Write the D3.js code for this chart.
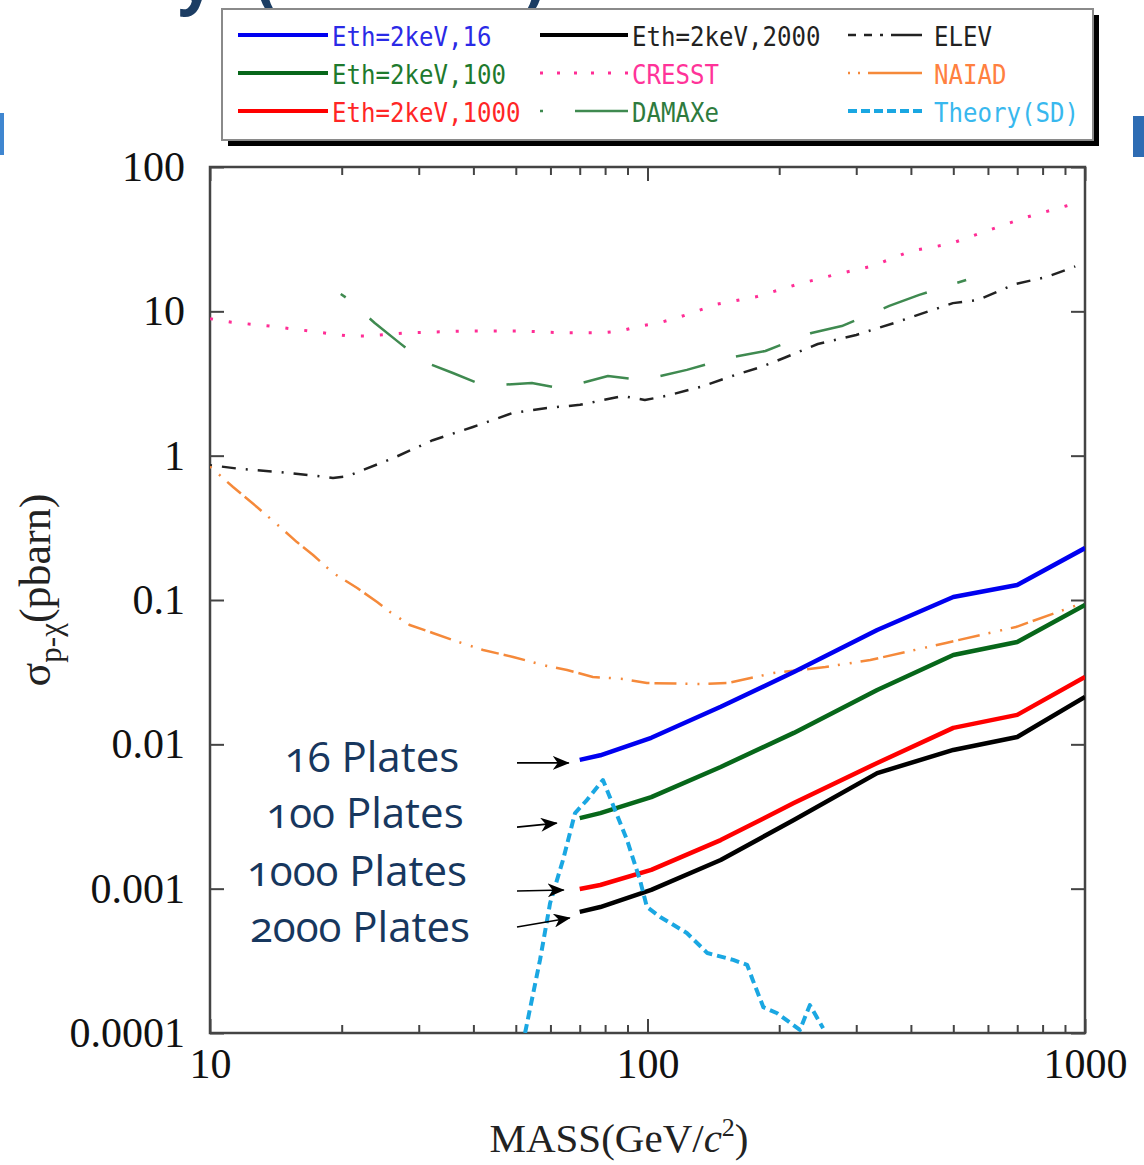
<!DOCTYPE html>
<html>
<head>
<meta charset="utf-8">
<script src="https://cdn.jsdelivr.net/npm/d3@7"></script>
<style>
  body { margin: 0; background: #fff; }
  svg { display: block; }
</style>
</head>
<body>
<svg id="chart" width="1144" height="1165"></svg>
<script>
// axis ticks
const xMajor = [10, 100, 1000];
const xMinor = [20, 30, 40, 50, 60, 70, 80, 90, 200, 300, 400, 500, 600, 700, 800, 900];
const yMajor = [0.0001, 0.001, 0.01, 0.1, 1, 10, 100];
const yTickLabels = ["0.0001", "0.001", "0.01", "0.1", "1", "10", "100"];

// Eth=2keV curves (16 / 100 / 1000 / 2000 plates), same mass points
const ethMass = [70, 78, 102, 147, 216, 335, 500, 700, 1000];
const eth16   = [0.0078, 0.0084, 0.0111, 0.0182, 0.0317, 0.062, 0.105, 0.127, 0.229];
const eth100  = [0.00308, 0.00334, 0.00431, 0.00697, 0.0120, 0.0238, 0.0416, 0.0512, 0.0923];
const eth1000 = [0.000995, 0.00106, 0.00135, 0.00217, 0.00392, 0.00743, 0.0130, 0.0160, 0.0293];
const eth2000 = [0.00069, 0.000746, 0.00098, 0.00158, 0.00299, 0.00632, 0.00914, 0.01124, 0.0213];

// other experiments
const cresstMass  = [10, 11.2, 13.7, 16.9, 20.7, 23, 28.2, 38.3, 52, 64, 79, 86.5, 96, 106, 118, 144, 177, 217, 267, 327, 400, 491, 604, 737, 905, 950];
const cresstSigma = [8.9, 8.4, 7.9, 7.3, 6.75, 6.75, 7.1, 7.3, 7.3, 7.1, 7.1, 7.3, 7.9, 8.3, 9.1, 11.2, 12.6, 15.2, 17.9, 20.6, 26.2, 29.3, 36.6, 45, 53.7, 56];

const damaMass  = [19.9, 20.5, 23.8, 27.2, 30.7, 35.9, 40.3, 46, 54.4, 60.8, 69.4, 81.2, 92.6, 105, 123, 157, 186, 237, 278, 357, 418, 535];
const damaSigma = [13.2, 12.4, 8.3, 6.0, 4.5, 3.74, 3.24, 3.09, 3.19, 2.99, 3.14, 3.56, 3.4, 3.51, 3.93, 4.83, 5.31, 7.08, 7.91, 10.9, 13.0, 16.5];

const elevMass  = [10, 11.7, 14.45, 17.8, 19.1, 20.6, 22, 26.2, 32.3, 39.9, 49.3, 58.9, 70.1, 87.9, 98.6, 110, 132, 158.5, 181.6, 205, 245, 300, 366, 499, 569, 695, 818, 929, 950];
const elevSigma = [0.86, 0.81, 0.77, 0.72, 0.70, 0.72, 0.78, 0.96, 1.28, 1.58, 1.98, 2.14, 2.25, 2.59, 2.43, 2.59, 2.99, 3.62, 4.11, 4.75, 5.94, 6.86, 8.3, 11.4, 12.0, 15.5, 17.3, 19.95, 20.5];

const naiadMass  = [10, 11.29, 12.8, 14.45, 15.8, 17.2, 19.1, 21.7, 24.1, 25.8, 28.6, 32.3, 35.9, 42.1, 49.3, 58.9, 65.5, 75, 87.9, 99.7, 132, 153, 194, 255, 323, 481, 695, 989];
const naiadSigma = [0.84, 0.607, 0.441, 0.321, 0.252, 0.205, 0.154, 0.121, 0.0969, 0.0826, 0.0671, 0.0591, 0.0528, 0.045, 0.0403, 0.0349, 0.0327, 0.0293, 0.0284, 0.0266, 0.0262, 0.0266, 0.0312, 0.0343, 0.0384, 0.0504, 0.065, 0.0953];

const theoryMass  = [52.5, 56.8, 59.9, 64.1, 68.3, 72.7, 79.1, 84.3, 89.8, 96.1, 99.7, 106.9, 123, 137, 157, 169, 174, 184, 198, 223, 235, 252];
const theorySigma = [0.0001, 0.000321, 0.000796, 0.00158, 0.00334, 0.00411, 0.00566, 0.00351, 0.00217, 0.00115, 0.000746, 0.000637, 0.000493, 0.000358, 0.000321, 0.000296, 0.000233, 0.000151, 0.000137, 0.000105, 0.000156, 0.000108];

const plateLabels = ["16 Plates", "100 Plates", "1000 Plates", "2000 Plates"];

/** the sensitivity plot */
class SensPlot {

    constructor(){
        this.svg = d3.select("#chart");
        //Margins - the bostock way
        this.margin = {top: 167, right: 59, bottom: 132, left: 210};
        this.width = 1144 - this.margin.left - this.margin.right;
        this.height = 1165 - this.margin.top - this.margin.bottom;

        this.x = d3.scaleLog().domain([10, 1000]).range([0, this.width]);
        this.y = d3.scaleLog().domain([1e-4, 100]).range([this.height, 0]);

        // series + how they look
        this.series = [
            {key: "eth16",   name: "Eth=2keV,16",   pts: d3.zip(ethMass, eth16),   color: "#0000f0", text: "#2a2ae6", w: 4.5, dash: null},
            {key: "eth100",  name: "Eth=2keV,100",  pts: d3.zip(ethMass, eth100),  color: "#07671a", text: "#1e7a2e", w: 4.5, dash: null},
            {key: "eth1000", name: "Eth=2keV,1000", pts: d3.zip(ethMass, eth1000), color: "#ff0000", text: "#ff2626", w: 4.5, dash: null},
            {key: "eth2000", name: "Eth=2keV,2000", pts: d3.zip(ethMass, eth2000), color: "#000000", text: "#222", w: 4.5, dash: null},
            {key: "cresst",  name: "CRESST",  pts: d3.zip(cresstMass, cresstSigma), color: "#ff2d95", text: "#ff3399", w: 3, dash: "3 16"},
            {key: "dama",    name: "DAMAXe",  pts: d3.zip(damaMass, damaSigma),     color: "#3f8a50", text: "#2e7b3e", w: 2.5, dash: "46 32", offset: 40},
            {key: "elev",    name: "ELEV",    pts: d3.zip(elevMass, elevSigma),     color: "#222", text: "#222", w: 2.5, dash: "2 10 14 10"},
            {key: "naiad",   name: "NAIAD",   pts: d3.zip(naiadMass, naiadSigma),   color: "#f5893a", text: "#ff8040", w: 2.5, dash: "2 10 2 9 18 5 22 9"},
            {key: "theory",  name: "Theory(SD)", pts: d3.zip(theoryMass, theorySigma), color: "#1aa7e2", text: "#38b8ee", w: 4, dash: "9 5"}
        ];
    }

    draw(){
        this.drawSlideBits();
        this.drawLegend();
        this.drawAxes();
        this.drawCurves();
        this.drawNotes();
    }

    drawSlideBits(){
        //leftovers of the slide title (cut off by the picture edge, like the original) + side bars
        let t = this.svg.append("g").attr("fill", "#1c3d63")
            .style("font-family", "'Open Sans', sans-serif")
            .style("font-size", "64px").style("font-weight", "bold");
        t.append("text").attr("x", 178).attr("y", 1).text("y");
        t.append("text").attr("x", 256).attr("y", 2).text("(");
        t.append("text").attr("x", 523).attr("y", 2).text(")");

        this.svg.append("rect").attr("x", 0).attr("y", 113).attr("width", 4).attr("height", 42).attr("fill", "#3f86d0");
        this.svg.append("rect").attr("x", 1133).attr("y", 116).attr("width", 11).attr("height", 41).attr("fill", "#2e6cb3");
    }

    drawLegend(){
        let g = this.svg.append("g").classed("legend", true);
        // shadow then box
        g.append("rect").attr("x", 228).attr("y", 15).attr("width", 871).attr("height", 131).attr("fill", "#000");
        g.append("rect").attr("x", 222).attr("y", 9).attr("width", 871).attr("height", 131)
            .attr("fill", "#fff").attr("stroke", "#8a8a8a").attr("stroke-width", 2);

        let colLine = [[238, 328], [540, 628], [848, 922]];
        let colText = [332, 632, 934];
        let rowY = [35, 73, 111];
        // column order like the original
        let order = ["eth16", "eth100", "eth1000", "eth2000", "cresst", "dama", "elev", "naiad", "theory"];
        let legendDash = {dama: "3 32 60 20", naiad: "2 8 2 8 60 10", cresst: "3 14", elev: "8 8 8 8 3 8 40 0", theory: "9 4"};

        order.forEach((k, i) => {
            let s = this.series.find(d => d.key === k);
            let c = Math.floor(i / 3), r = i % 3;
            let ln = g.append("line")
                .attr("x1", colLine[c][0]).attr("x2", colLine[c][1])
                .attr("y1", rowY[r]).attr("y2", rowY[r])
                .attr("stroke", s.color).attr("stroke-width", s.dash ? Math.max(s.w, 2.5) : 4);
            if (legendDash[k]) ln.attr("stroke-dasharray", legendDash[k]);

            g.append("text")
                .attr("x", colText[c]).attr("y", rowY[r] + 11)
                .attr("fill", s.text)
                .attr("textLength", s.name.length * 14.5)
                .attr("lengthAdjust", "spacingAndGlyphs")
                .style("font-family", "'DejaVu Sans Mono', monospace")
                .style("font-size", "27px")
                .text(s.name);
        });
    }

    drawAxes(){
        let g = this.svg.append("g")
            .attr("transform", `translate(${this.margin.left},${this.margin.top})`);
        let serif = "'Liberation Serif', 'Times New Roman', serif";

        //bottom labels + major ticks
        let bot = g.append("g").attr("transform", `translate(0,${this.height})`)
            .call(d3.axisBottom(this.x).tickValues(xMajor).tickSize(-14).tickPadding(15).tickFormat(d3.format("d")));
        bot.append("g").call(d3.axisBottom(this.x).tickValues(xMinor).tickSize(-8).tickFormat(""));
        //top
        let top = g.append("g")
            .call(d3.axisTop(this.x).tickValues(xMajor).tickSize(-14).tickFormat(""));
        top.append("g").call(d3.axisTop(this.x).tickValues(xMinor).tickSize(-8).tickFormat(""));
        //left + right
        let left = g.append("g")
            .call(d3.axisLeft(this.y).tickValues(yMajor).tickSize(-14).tickPadding(25)
                .tickFormat((d, i) => yTickLabels[i]));
        let right = g.append("g").attr("transform", `translate(${this.width},0)`)
            .call(d3.axisRight(this.y).tickValues(yMajor).tickSize(-14).tickFormat(""));

        [bot, top, left, right].forEach(a => {
            a.selectAll(".domain").remove();
            a.selectAll("line").attr("stroke", "#444").attr("stroke-width", 2);
            a.selectAll("text").attr("fill", "#111")
                .style("font-family", serif).style("font-size", "42px");
        });

        g.append("rect").attr("width", this.width).attr("height", this.height)
            .attr("fill", "none").attr("stroke", "#444").attr("stroke-width", 2.5);

        // axis titles
        let xl = this.svg.append("text")
            .attr("x", 619).attr("y", 1152).attr("text-anchor", "middle")
            .attr("fill", "#222")
            .style("font-family", serif).style("font-size", "41px");
        xl.append("tspan").text("MASS(GeV/");
        xl.append("tspan").style("font-style", "italic").text("c");
        xl.append("tspan").attr("dy", -16).style("font-size", "26px").text("2");
        xl.append("tspan").attr("dy", 16).text(")");

        let yl = this.svg.append("text")
            .attr("transform", "translate(50,590) rotate(-90)")
            .attr("text-anchor", "middle").attr("fill", "#222")
            .style("font-family", serif).style("font-size", "44px");
        yl.append("tspan").text("σ");
        yl.append("tspan").attr("dy", 11).style("font-size", "31px").text("p-χ");
        yl.append("tspan").attr("dy", -11).text("(pbarn)");
    }

    drawCurves(){
        this.svg.append("clipPath").attr("id", "plotClip")
            .append("rect").attr("width", this.width).attr("height", this.height);

        let g = this.svg.append("g")
            .attr("transform", `translate(${this.margin.left},${this.margin.top})`)
            .attr("clip-path", "url(#plotClip)");

        let line = d3.line().x(d => this.x(d[0])).y(d => this.y(d[1]));

        // dashed ones underneath, the plate curves on top, theory last
        let drawOrder = ["cresst", "dama", "elev", "naiad", "eth16", "eth100", "eth1000", "eth2000", "theory"];
        let data = drawOrder.map(k => this.series.find(d => d.key === k));

        g.selectAll("path.curve").data(data).enter().append("path")
            .attr("class", d => "curve " + d.key)
            .attr("d", d => line(d.pts))
            .attr("fill", "none")
            .attr("stroke", d => d.color)
            .attr("stroke-width", d => d.w)
            .attr("stroke-linejoin", "round")
            .attr("stroke-dasharray", d => d.dash)
            .attr("stroke-dashoffset", d => d.offset || 0);
    }

    drawNotes(){
        //arrows pointing at the start of each plate curve
        let defs = this.svg.append("defs");
        defs.append("marker").attr("id", "head")
            .attr("markerUnits", "userSpaceOnUse")
            .attr("markerWidth", 18).attr("markerHeight", 14)
            .attr("refX", 16).attr("refY", 7).attr("orient", "auto")
            .append("path").attr("d", "M0,0 L17,7 L0,14 L5,7 Z").attr("fill", "#000");

        let starts = [eth16[0], eth100[0], eth1000[0], eth2000[0]];
        let x0 = this.margin.left + this.x(ethMass[0]);
        let tipDx = [11, 23, 16, 10];
        let tipDy = [3, 5, 1, 6];
        let tailDy = [3, 9, 2, 15];
        let textX = [372, 365, 357, 360];
        let textY = [772, 828, 886, 942];

        plateLabels.forEach((lab, i) => {
            let yy = this.margin.top + this.y(starts[i]);
            this.svg.append("line")
                .attr("x1", 517).attr("y1", yy + tailDy[i])
                .attr("x2", x0 - tipDx[i]).attr("y2", yy + tipDy[i])
                .attr("stroke", "#000").attr("stroke-width", 1.6)
                .attr("marker-end", "url(#head)");

            this.svg.append("text")
                .attr("x", textX[i]).attr("y", textY[i])
                .attr("text-anchor", "middle")
                .attr("fill", "#17375e")
                .style("font-family", "'Open Sans', 'Noto Sans', sans-serif")
                .style("font-size", "42px")
                .style("font-variant-numeric", "oldstyle-nums")
                .text(lab);
        });
    }
}

let plot = new SensPlot();
plot.draw();
</script>
</body>
</html>
